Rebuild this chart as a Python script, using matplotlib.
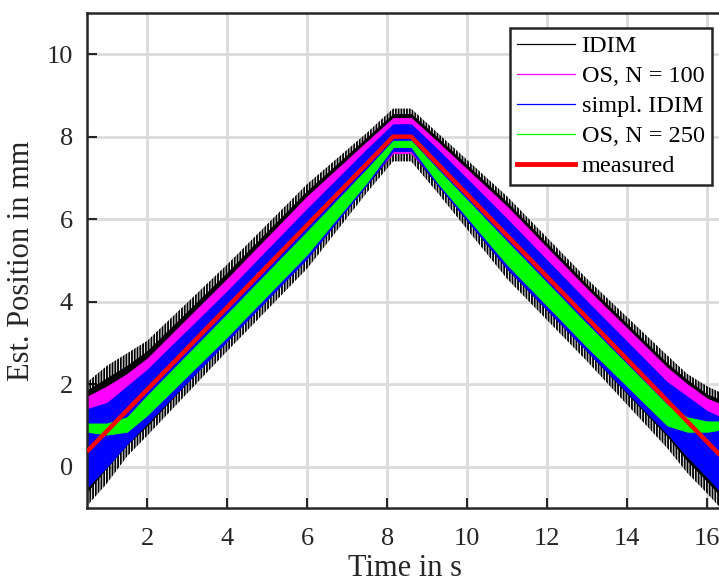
import matplotlib
matplotlib.use("Agg")
from matplotlib import pyplot as plt
from matplotlib.lines import Line2D
import numpy as np

# measured trajectory (corner points)
meas_t = [0.5, 8.15, 8.6, 16.33]
meas_y = [0.37, 8.0, 8.0, 0.27]

# envelope knots of the noisy estimates
knot_t = [0.5, 1.0, 1.5, 2.0, 4.0, 6.0, 7.5, 8.15, 8.6, 9.25, 11.0, 13.0, 15.0, 15.5, 16.0, 16.33]

# IDIM: outer spikes and dense core
idim_hi = [2.05, 2.45, 2.75, 3.05, 4.9, 6.85, 8.1, 8.68, 8.68, 8.1, 6.55, 4.55, 2.7, 2.25, 1.95, 1.8]
idim_lo = [-0.95, -0.4, 0.25, 0.75, 2.8, 4.8, 6.65, 7.4, 7.4, 6.65, 4.55, 2.55, 0.45, -0.15, -0.65, -1.0]
idim_core_hi = [1.85, 2.15, 2.45, 2.8, 4.7, 6.68, 7.98, 8.55, 8.55, 7.98, 6.4, 4.4, 2.5, 2.1, 1.75, 1.62]
idim_core_lo = [-0.6, 0.0, 0.55, 1.0, 3.1, 5.1, 6.85, 7.6, 7.6, 6.85, 4.8, 2.8, 0.75, 0.15, -0.35, -0.7]

os100_hi = [1.7, 1.95, 2.25, 2.62, 4.55, 6.55, 7.88, 8.45, 8.45, 7.88, 6.3, 4.3, 2.4, 2.0, 1.65, 1.52]
os100_lo = [-0.5, 0.1, 0.65, 1.2, 3.25, 5.25, 6.9, 7.6, 7.6, 6.9, 5.0, 3.0, 0.9, 0.3, -0.2, -0.55]

simp_hi = [1.4, 1.55, 1.95, 2.35, 4.25, 6.25, 7.7, 8.3, 8.3, 7.7, 6.0, 4.0, 2.05, 1.7, 1.35, 1.2]
simp_lo = [-0.5, 0.0, 0.55, 1.05, 3.05, 5.05, 6.85, 7.65, 7.65, 6.85, 4.8, 2.8, 0.8, 0.25, -0.25, -0.6]

os250_hi = [1.05, 1.05, 1.2, 1.72, 3.7, 5.7, 7.22, 7.9, 7.9, 7.22, 5.45, 3.45, 1.5, 1.2, 1.1, 1.1]
os250_lo = [0.85, 0.78, 0.85, 1.25, 3.15, 5.15, 6.9, 7.75, 7.75, 6.9, 4.9, 2.9, 1.0, 0.85, 0.85, 0.9]

labels = ["IDIM", "OS, N = 100", "simpl. IDIM", "OS, N = 250", "measured"]
colors = ["#000000", "#ff00ff", "#0000ff", "#00ff00", "#ff0000"]

plt.rcParams["font.family"] = ["Liberation Serif", "DejaVu Serif"]
plt.rcParams["hatch.linewidth"] = 1.3

fig = plt.figure(figsize=(7.19, 5.82), dpi=100)
ax = fig.add_axes([0.121, 0.127, 0.885, 0.851])

# spiky fringe of IDIM, then the dense parts
ax.fill_between(knot_t, idim_lo, idim_hi, facecolor="none", edgecolor=colors[0],
                hatch="||||||", linewidth=0, zorder=2)
ax.fill_between(knot_t, idim_core_lo, idim_core_hi, color=colors[0], linewidth=0.6, zorder=2)
ax.fill_between(knot_t, os100_lo, os100_hi, color=colors[1], linewidth=0.6, zorder=2)
ax.fill_between(knot_t, simp_lo, simp_hi, color=colors[2], linewidth=0.6, zorder=2)
ax.fill_between(knot_t, os250_lo, os250_hi, color=colors[3], linewidth=0.6, zorder=2)
ax.plot(meas_t, meas_y, color=colors[4], linewidth=3.2, zorder=3, solid_capstyle="butt")

ax.set_xlim(0.5, 16.4)
ax.set_ylim(-1, 11)
ax.set_xticks([2, 4, 6, 8, 10, 12, 14, 16])
ax.set_yticks([0, 2, 4, 6, 8, 10])
ax.grid(True, color="#dcdcdc", linewidth=2)
ax.set_axisbelow(True)
for s in ax.spines.values():
    s.set_color("#262626")
    s.set_linewidth(1.8)
ax.tick_params(direction="in", length=7, width=1.5, colors="#262626", labelsize=19,
               top=False, right=False)
ax.tick_params(axis="x", pad=14)
ax.tick_params(axis="y", pad=10)
ax.set_xlabel("Time in s", fontsize=22, color="#262626", labelpad=3)
ax.set_ylabel("Est. Position in mm", fontsize=22, color="#262626", labelpad=8)

handles = [Line2D([], [], color=c, linewidth=0.9) for c in colors[:4]]
handles.append(Line2D([], [], color=colors[4], linewidth=3.5))
leg = fig.legend(handles, labels, loc="upper right", bbox_to_anchor=(0.99, 0.952),
                 fontsize=17.5, fancybox=False, framealpha=1, edgecolor="#262626",
                 handlelength=2.4, handletextpad=0.25, labelspacing=0.33, borderpad=0.3,
                 borderaxespad=0)
leg.get_frame().set_linewidth(1.8)

plt.savefig("out.png", dpi=100)
